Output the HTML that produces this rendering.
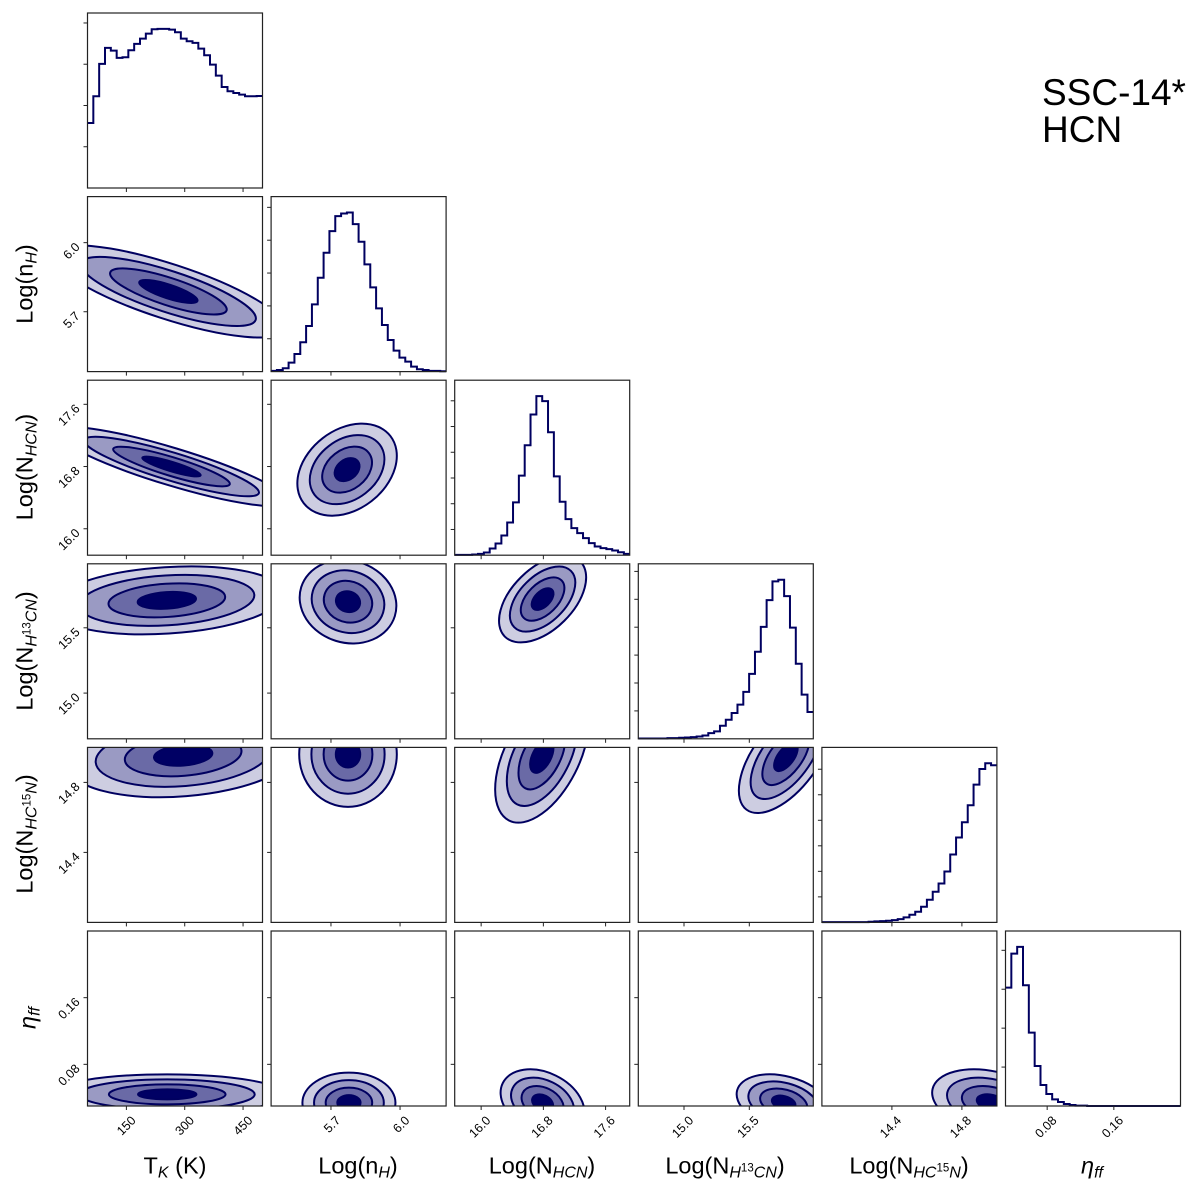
<!DOCTYPE html>
<html><head><meta charset="utf-8">
<style>
html,body{margin:0;padding:0;background:#fff;}
#wrap{position:relative;width:1200px;height:1195px;overflow:hidden;font-family:"Liberation Sans",sans-serif;}
svg{position:absolute;left:0;top:0;}
.lab{position:absolute;font-size:23.5px;color:#000;white-space:nowrap;line-height:1;}
.lab sub{font-size:16px;vertical-align:-4px;}
.lab sup{font-size:11.5px;vertical-align:6px;}
.ylab{transform:translate(-50%,-50%) rotate(-90deg);}
.xlab{transform:translate(-50%,-50%);}
#title{position:absolute;left:1042px;top:74px;font-size:37px;line-height:37px;}
</style></head>
<body>
<div id="wrap">
<svg id="chart" width="1200" height="1195"></svg>
<div id="title">SSC-14*<br>HCN</div>
<div class="lab xlab" style="left:175px;top:1168px">T<sub><i>K</i></sub> (K)</div>
<div class="lab xlab" style="left:358px;top:1168px">Log(n<sub><i>H</i></sub>)</div>
<div class="lab xlab" style="left:542px;top:1168px">Log(N<sub><i>HCN</i></sub>)</div>
<div class="lab xlab" style="left:725px;top:1168px">Log(N<sub><i>H</i><sup>13</sup><i>CN</i></sub>)</div>
<div class="lab xlab" style="left:909px;top:1168px">Log(N<sub><i>HC</i><sup>15</sup><i>N</i></sub>)</div>
<div class="lab xlab" style="left:1092px;top:1168px"><i>η</i><sub><i>ff</i></sub></div>
<div class="lab ylab" style="left:27px;top:284px">Log(n<sub><i>H</i></sub>)</div>
<div class="lab ylab" style="left:27px;top:467px">Log(N<sub><i>HCN</i></sub>)</div>
<div class="lab ylab" style="left:27px;top:651px">Log(N<sub><i>H</i><sup>13</sup><i>CN</i></sub>)</div>
<div class="lab ylab" style="left:27px;top:834px">Log(N<sub><i>HC</i><sup>15</sup><i>N</i></sub>)</div>
<div class="lab ylab" style="left:30px;top:1018px"><i>η</i><sub><i>ff</i></sub></div>
</div>
<script>
// ---- data ----
const paramNames = ["tk","nh","nhcn","nh13cn","nhc15n","eta"];
const ranges = [[50,500],[5.44,6.2],[15.66,17.91],[14.65,15.99],[14.0,15.0],[0.03,0.24]];
const axisTicks = [[150,300,450],[5.7,6.0],[16.0,16.8,17.6],[15.0,15.5],[14.4,14.8],[0.08,0.16]];
const tickLabels = [["150","300","450"],["5.7","6.0"],["16.0","16.8","17.6"],["15.0","15.5"],["14.4","14.8"],["0.08","0.16"]];
const histTK = [195,275,372,420,412,390,392,413,432,448,463,476,477,477,475,467,448,440,435,418,398,370,337,303,290,285,280,275,275,276];
const histNH = [2,5,10,27,53,88,137,202,282,357,422,467,475,478,443,390,322,253,190,140,95,63,42,30,15,7,5,2,2,1];
const histNHCN = [1,1,1,2,4,8,20,35,59,98,158,238,329,421,476,461,368,236,160,108,81,66,51,36,26,21,18,14,9,4];
const histNH13CN = [1,1,1,1,1,2,2,3,4,5,7,10,17,22,39,57,77,102,140,194,260,334,414,470,475,426,332,224,132,80];
const histNHC15N = [1,1,1,1,1,1,1,1,2,3,4,5,7,10,15,23,32,47,68,92,117,153,204,255,301,352,414,461,478,472];
const histEta = [355,457,477,362,220,120,63,36,20,12,6,3,1,1,0,0,0,0,0,0,0,0,0,0,0,0,0,0,0,0];
const histTickStep = [123.7,98.7,77,83.3,76.7,116.7];
// 2D panels: [row, col, centerX, centerY, sigmaX, sigmaY, rho]
const blobRows = [1,2,3,4,5, 2,3,4,5, 3,4,5, 4,5, 5];
const blobCols = [0,0,0,0,0, 1,1,1,1, 2,2,2, 3,3, 4];
const blobCX = [258,266,254,296,255, 5.77,5.774,5.774,5.778, 16.79,16.78,16.79, 15.78,15.763, 14.97];
const blobCY = [5.788,16.80,15.71,14.955,0.044, 16.76,15.70,14.96,0.034, 15.72,14.95,0.034, 14.945,0.034, 0.034];
const blobSX = [150,150,150,150,150, 0.108,0.105,0.106,0.101, 0.28,0.30,0.27, 0.18,0.18, 0.17];
const blobSY = [0.10,0.255,0.13,0.12,0.012, 0.296,0.16,0.15,0.018, 0.166,0.19,0.02, 0.16,0.017, 0.02];
const blobRho = [-0.78,-0.87,0.2,0.2,0, 0.3,-0.1,0,0, 0.5,0.5,-0.3, 0.6,-0.3, -0.3];
const levels = [2,1.5,1,0.5];

// ---- layout / style ----
const hists = [histTK,histNH,histNHCN,histNH13CN,histNHC15N,histEta];
const levelFill = ["#cdcde1","#9a9ac3","#6a6aa6","#000064"];
const NS="http://www.w3.org/2000/svg";
const svg=document.getElementById('chart');
const P0X=87.5, P0Y=13, STEP=183.6, SZ=175;
function mk(tag,attrs,parent){const e=document.createElementNS(NS,tag);for(const k in attrs)e.setAttribute(k,attrs[k]);(parent||svg).appendChild(e);return e;}
function px(col,v){const r=ranges[col];return P0X+col*STEP+(v-r[0])/(r[1]-r[0])*SZ;}
function py(row,v){const r=ranges[row];return P0Y+row*STEP+SZ-(v-r[0])/(r[1]-r[0])*SZ;}
const defs=mk('defs',{});

function drawAxes(row,col,g,isHist){
  const x0=P0X+col*STEP, y0=P0Y+row*STEP;
  axisTicks[col].forEach((t,i)=>{
    const x=px(col,t);
    const tk=mk('line',{x1:x,x2:x,y1:y0+SZ,y2:y0+SZ+4,stroke:'#222','stroke-width':1},g);
    
    
    if(row===5){
      const tx=mk('text',{x:x+4,y:y0+SZ+9,'font-size':12.5,'text-anchor':'end','dominant-baseline':'hanging',transform:`rotate(-45 ${x+4} ${y0+SZ+9})`,fill:'#000'},g);
      tx.textContent=tickLabels[col][i];
      
      
    }
  });
  if(isHist){
    const h=hists[col], ymax=1.1*Math.max(...h), st=histTickStep[col];
    for(let v=st; v<ymax; v+=st){
      const y=y0+SZ-v/ymax*SZ;
      const tk=mk('line',{x1:x0-4,x2:x0,y1:y,y2:y,stroke:'#222','stroke-width':1},g);
      
      
    }
  } else {
    axisTicks[row].forEach((t,i)=>{
      const y=py(row,t);
      const tk=mk('line',{x1:x0-4,x2:x0,y1:y,y2:y,stroke:'#222','stroke-width':1},g);
      
      
      if(col===0){
        const tx=mk('text',{x:x0-7,y:y+5,'font-size':12.5,'text-anchor':'end',transform:`rotate(-45 ${x0-7} ${y+5})`,fill:'#000'},g);
        tx.textContent=tickLabels[row][i];
        
        
      }
    });
  }
  const fr=mk('rect',{x:x0,y:y0,width:SZ,height:SZ,fill:'none',stroke:'#222','stroke-width':1.2},g);
  
  
}

for(let k=0;k<6;k++){
  const g=mk('g',{});
  
  
  const h=hists[k], ymax=1.1*Math.max(...h), r=ranges[k], n=h.length;
  const y0=P0Y+k*STEP;
  let d='';
  for(let i=0;i<n;i++){
    const xa=px(k,r[0]+(r[1]-r[0])*i/n), xb=px(k,r[0]+(r[1]-r[0])*(i+1)/n);
    const y=y0+SZ-h[i]/ymax*SZ;
    d+=(i===0?'M':'L')+xa.toFixed(2)+' '+y.toFixed(2)+' L'+xb.toFixed(2)+' '+y.toFixed(2)+' ';
  }
  const p=mk('path',{d:d,fill:'none',stroke:'#000060','stroke-width':2},g);
  
  
  drawAxes(k,k,g,true);
}

for(let b=0;b<blobRows.length;b++){
  const row=blobRows[b], col=blobCols[b];
  const x0=P0X+col*STEP, y0=P0Y+row*STEP;
  const cid='clip'+b;
  const cp=mk('clipPath',{id:cid},defs);
  mk('rect',{x:x0,y:y0,width:SZ,height:SZ},cp);
  const g=mk('g',{});
  
  
  const cg=mk('g',{'clip-path':`url(#${cid})`},g);
  const kx=SZ/(ranges[col][1]-ranges[col][0]), ky=SZ/(ranges[row][1]-ranges[row][0]);
  const sxp=blobSX[b]*kx, syp=blobSY[b]*ky;
  const a=sxp*sxp, c=syp*syp, bb=-blobRho[b]*sxp*syp;
  const th=0.5*Math.atan2(2*bb,a-c);
  const m=(a+c)/2, dd=Math.sqrt(((a-c)/2)**2+bb*bb);
  const l1=Math.sqrt(m+dd), l2=Math.sqrt(Math.max(m-dd,1e-6));
  const cx=px(col,blobCX[b]), cy=py(row,blobCY[b]);
  levels.forEach((s,li)=>{
    const e=mk('ellipse',{cx:cx,cy:cy,rx:l1*s,ry:l2*s,transform:`rotate(${th*180/Math.PI} ${cx} ${cy})`,fill:levelFill[li],stroke:'#000060','stroke-width':2},cg);
    
    
  });
  drawAxes(row,col,g,false);
}
</script>
</body></html>
